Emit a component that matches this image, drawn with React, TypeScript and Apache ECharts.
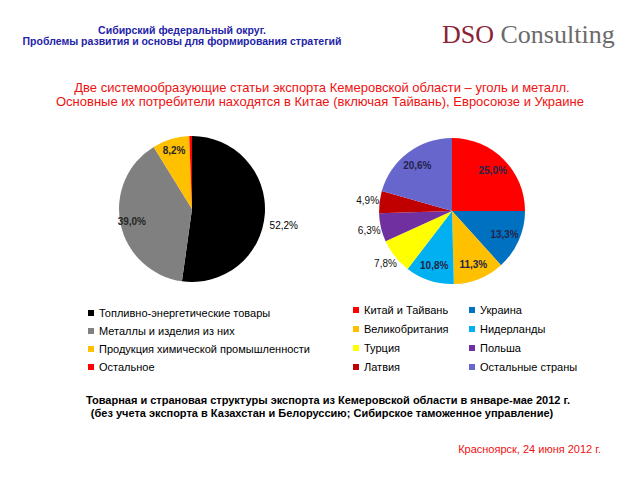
import React, { useEffect, useRef } from 'react';
import * as echarts from 'echarts';

const goodsCategories = [
  'Топливно-энергетические товары',
  'Металлы и изделия из них',
  'Продукция химической промышленности',
  'Остальное',
];
const goodsValues = [52.2, 39.0, 8.2, 0.6];
const goodsColors = ['#000000', '#808080', '#FFC000', '#FF0000'];

const countryCategories = [
  'Китай и Тайвань',
  'Украина',
  'Великобритания',
  'Нидерланды',
  'Турция',
  'Польша',
  'Латвия',
  'Остальные страны',
];
const countryValues = [25.0, 13.3, 11.3, 10.8, 7.8, 6.3, 4.9, 20.6];
const countryColors = ['#FF0000', '#0070C0', '#FFC000', '#00B0F0', '#FFFF00', '#7030A0', '#C00000', '#6666CC'];

const headerLines = ['Сибирский федеральный округ.', 'Проблемы развития и основы для формирования стратегий'];
const titleLines = [
  'Две системообразующие статьи экспорта Кемеровской области – уголь и металл.',
  'Основные их потребители находятся в Китае (включая Тайвань), Евросоюзе и Украине',
];
const noteLines = [
  'Товарная и страновая структуры экспорта из Кемеровской области в январе-мае 2012 г.',
  '(без учета экспорта в Казахстан и Белоруссию; Сибирское таможенное управление)',
];
const placeDate = 'Красноярск, 24 июня 2012 г.';

const FONT = 'Arial, "Liberation Sans", sans-serif';
const SERIF = '"Liberation Serif", "Times New Roman", serif';

const fmt = (p: any) => Number(p.value).toFixed(1).replace('.', ',') + '%';

function mainPie(center: number[], r: number, names: string[], values: number[], colors: string[]) {
  return {
    type: 'pie',
    center,
    radius: [0, r],
    startAngle: 90,
    clockwise: true,
    silent: true,
    z: 2,
    emphasis: { disabled: true },
    itemStyle: { borderWidth: 0 },
    label: { show: false },
    labelLine: { show: false },
    data: names.map((n, i) => ({ name: n, value: values[i], itemStyle: { color: colors[i] } })),
  };
}

function labelPie(
  center: number[],
  radius: number[],
  names: string[],
  values: number[],
  shown: number[],
  labelStyle: any,
  extra: any = {}
) {
  return {
    type: 'pie',
    center,
    radius,
    startAngle: 90,
    clockwise: true,
    silent: true,
    z: 3,
    avoidLabelOverlap: false,
    emphasis: { disabled: true },
    itemStyle: { color: 'rgba(0,0,0,0)', borderWidth: 0 },
    label: { show: true, position: 'inside', formatter: fmt, fontFamily: FONT, fontSize: 10, ...labelStyle },
    labelLine: { show: false },
    data: names.map((n, i) => ({ name: n, value: values[i], label: { show: shown.includes(i) } })),
    ...extra,
  };
}

export default function App() {
  const ref = useRef<HTMLDivElement>(null);
  useEffect(() => {
    document.body.style.margin = '0';
    const chart = echarts.init(ref.current!, null, { renderer: 'svg' });
    const leftC = [192, 209];
    const rightC = [452, 211];
    const R = 73;
    const legendText = { fontSize: 11, color: '#000', fontFamily: FONT, lineHeight: 12 };
    const legendBase = {
      orient: 'vertical',
      padding: 0,
      itemWidth: 6,
      itemHeight: 6,
      icon: 'rect',
      selectedMode: false,
      textStyle: legendText,
    };
    const textEl = (text: string, x: number, y: number, fill: string, font: string, align = 'center') => ({
      type: 'text',
      x,
      y,
      silent: true,
      style: { text, fill, font, align, verticalAlign: 'middle', textAlign: align, textVerticalAlign: 'middle' },
    });
    chart.setOption({
      animation: false,
      backgroundColor: '#ffffff',
      legend: [
        {
          ...legendBase,
          left: 88,
          top: 307,
          itemGap: 6,
          data: goodsCategories.map((n, i) => ({ name: n, itemStyle: { color: goodsColors[i] } })),
        },
        {
          ...legendBase,
          left: 353,
          top: 304,
          itemGap: 7,
          data: [0, 2, 4, 6].map((i) => ({ name: countryCategories[i], itemStyle: { color: countryColors[i] } })),
        },
        {
          ...legendBase,
          left: 469,
          top: 304,
          itemGap: 7,
          data: [1, 3, 5, 7].map((i) => ({ name: countryCategories[i], itemStyle: { color: countryColors[i] } })),
        },
      ],
      series: [
        mainPie(leftC, R, goodsCategories, goodsValues, goodsColors),
        mainPie(rightC, R, countryCategories, countryValues, countryColors),
        labelPie(leftC, [44, R], goodsCategories, goodsValues, [1, 2], { fontWeight: 'bold', color: '#262626' }),
        labelPie(leftC, [R, 105], goodsCategories, goodsValues, [0], { color: '#000' }, {
          labelLayout: () => ({ dy: 10 }),
        }),
        labelPie(rightC, [36, R], countryCategories, countryValues, [0, 1, 2, 3, 7], {
          fontWeight: 'bold',
          color: '#24244a',
        }),
        labelPie(rightC, [R, 91], countryCategories, countryValues, [4, 5, 6], { color: '#111' }),
      ],
      graphic: [
        textEl(headerLines[0], 182, 30, '#2323A8', `bold 10.5px ${FONT}`),
        textEl(headerLines[1], 182, 41, '#2323A8', `bold 10.5px ${FONT}`),
        {
          type: 'text',
          x: 442,
          y: 34,
          silent: true,
          style: {
            text: '{a|DSO }{b|Consulting}',
            verticalAlign: 'middle',
            textVerticalAlign: 'middle',
            rich: {
              a: { fontSize: 26, fontFamily: SERIF, fill: '#8B2335' },
              b: { fontSize: 26, fontFamily: SERIF, fill: '#6b6b6b' },
            },
          },
        },
        textEl(titleLines[0], 322, 87, '#EE1111', `13px ${FONT}`),
        textEl(titleLines[1], 320, 101, '#EE1111', `13px ${FONT}`),
        textEl(noteLines[0], 328, 400, '#000', `bold 11px ${FONT}`),
        textEl(noteLines[1], 322, 413, '#000', `bold 11px ${FONT}`),
        textEl(placeDate, 601, 449, '#EE1111', `11px ${FONT}`, 'right'),
      ],
    });
    return () => chart.dispose();
  }, []);
  return <div ref={ref} style={{ width: 640, height: 480 }} />;
}
